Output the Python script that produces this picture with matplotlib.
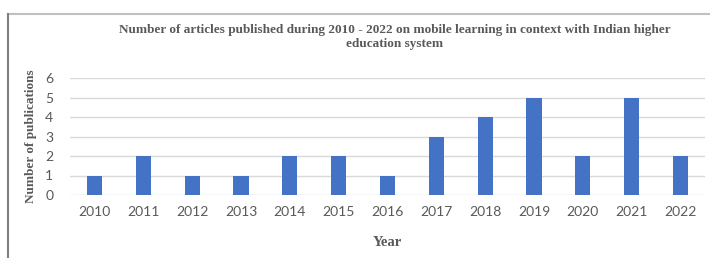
import matplotlib.pyplot as plt
from matplotlib.lines import Line2D

# Data
years = ['2010', '2011', '2012', '2013', '2014', '2015', '2016',
         '2017', '2018', '2019', '2020', '2021', '2022']
publications = [1, 2, 1, 1, 2, 2, 1, 3, 4, 5, 2, 5, 2]
y_ticks = [0, 1, 2, 3, 4, 5, 6]

title_text = ('Number of articles published during 2010 - 2022 on mobile learning in context with Indian higher\n'
              'education system')

gray = '#595959'
bar_color = '#4472C4'

fig = plt.figure(figsize=(7.1, 2.58), dpi=100)
ax = fig.add_axes([70 / 710, 1 - 195 / 258, 635 / 710, 117 / 258])

x = range(len(years))
ax.bar(x, publications, width=0.31, color=bar_color, zorder=3)

ax.set_xlim(-0.5, len(years) - 0.5)
ax.set_ylim(0, 6)
ax.set_yticks(y_ticks)
ax.set_xticks(list(x))
ax.set_xticklabels(years)
ax.grid(axis='y', color='#d9d9d9', linewidth=1, zorder=0)
for s in ax.spines.values():
    s.set_visible(False)
ax.tick_params(length=0, labelsize=10, labelcolor=gray, pad=8)
ax.tick_params(axis='y', pad=12)
for lab in ax.get_xticklabels() + ax.get_yticklabels():
    lab.set_family('Lato')

# axis labels and title
fig.text(395 / 710, 1 - 37 / 258, title_text, ha='center', va='center',
         family='Liberation Serif', fontweight='bold', fontsize=9.5, color=gray,
         linespacing=1.25)
fig.text(31 / 710, 1 - 136 / 258, 'Number of publications', ha='center', va='center',
         rotation=90, family='Liberation Serif', fontweight='bold', fontsize=9.5, color=gray)
fig.text(387 / 710, 1 - 242 / 258, 'Year', ha='center', va='center',
         family='Liberation Serif', fontweight='bold', fontsize=10.5, color=gray)

# outer frame lines (top and left)
fig.add_artist(Line2D([8 / 710, 1], [1 - 14 / 258, 1 - 14 / 258],
                      transform=fig.transFigure, color='#c0c0c0', linewidth=1.5))
fig.add_artist(Line2D([8 / 710, 8 / 710], [0, 1 - 14 / 258],
                      transform=fig.transFigure, color='#7f7f7f', linewidth=1.5))

fig.savefig('out.png', dpi=100)
